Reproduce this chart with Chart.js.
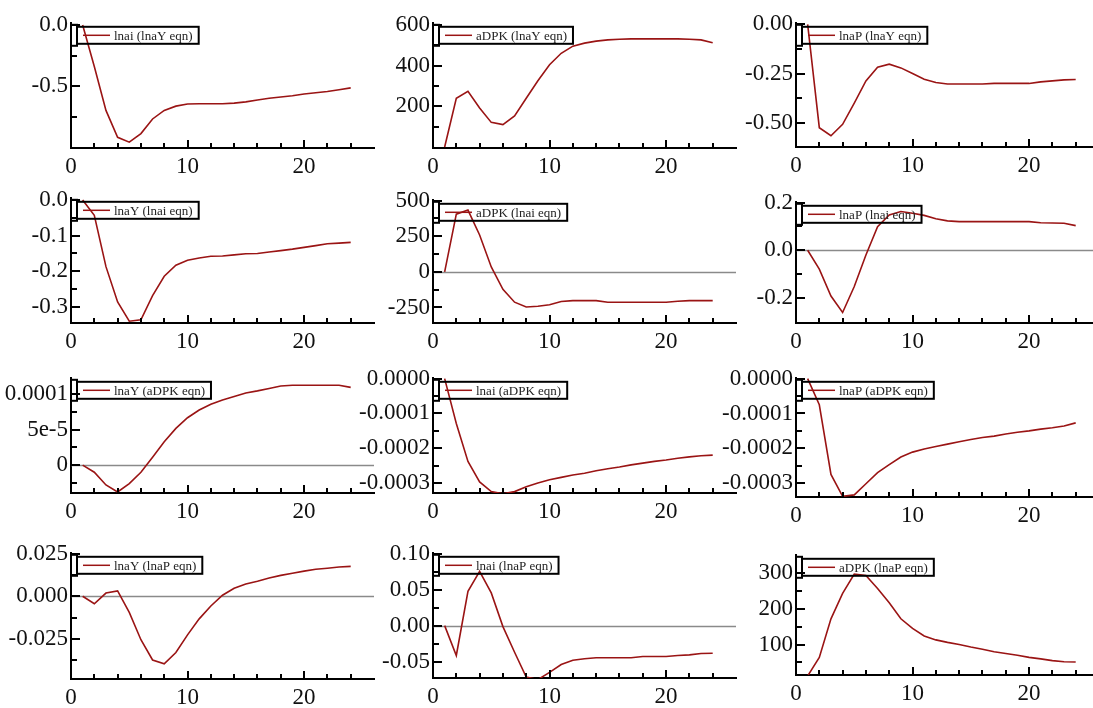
<!DOCTYPE html>
<html><head><meta charset="utf-8">
<script src="https://cdn.jsdelivr.net/npm/chart.js@4"></script>
<style>
html,body{margin:0;padding:0;background:#fff;overflow:hidden;width:1093px;height:708px;position:relative}
canvas{position:absolute}
</style></head><body>
<script>
// horizons
const steps = [1,2,3,4,5,6,7,8,9,10,11,12,13,14,15,16,17,18,19,20,21,22,23,24];
const xMajor = [10, 20];
const xMinor = [2,4,6,8,12,14,16,18,22,24];

// series values
const lnai_lnaY = [0,-0.34,-0.70,-0.92,-0.96,-0.89,-0.77,-0.70,-0.665,-0.648,-0.645,-0.645,-0.645,-0.64,-0.63,-0.615,-0.60,-0.59,-0.58,-0.565,-0.555,-0.545,-0.53,-0.515];
const aDPK_lnaY = [0,240,274,192,121,110,153,240,326,405,461,496,511,521,527,530,532,532,532,532,532,530,527,513];
const lnaP_lnaY = [0,-0.525,-0.566,-0.508,-0.40,-0.287,-0.218,-0.202,-0.221,-0.25,-0.279,-0.295,-0.303,-0.303,-0.303,-0.303,-0.30,-0.30,-0.30,-0.30,-0.292,-0.287,-0.282,-0.28];
const lnaY_lnai = [0,-0.043,-0.187,-0.286,-0.34,-0.336,-0.268,-0.214,-0.183,-0.169,-0.163,-0.158,-0.157,-0.154,-0.151,-0.15,-0.146,-0.142,-0.138,-0.133,-0.128,-0.123,-0.121,-0.119];
const aDPK_lnai = [0,404,433,258,34,-123,-213,-247,-242,-231,-208,-202,-202,-202,-213,-213,-213,-213,-213,-213,-206,-202,-202,-202];
const lnaP_lnai = [0,-0.079,-0.192,-0.261,-0.152,-0.02,0.099,0.148,0.162,0.155,0.146,0.132,0.123,0.12,0.12,0.12,0.12,0.12,0.12,0.12,0.115,0.114,0.113,0.103];
const lnaY_aDPK = [0,-1.0e-5,-2.8e-5,-3.8e-5,-2.6e-5,-1.0e-5,1.13e-5,3.3e-5,5.2e-5,6.7e-5,7.8e-5,8.6e-5,9.2e-5,9.7e-5,1.02e-4,1.05e-4,1.085e-4,1.12e-4,1.13e-4,1.13e-4,1.13e-4,1.13e-4,1.13e-4,1.10e-4];
const lnai_aDPK = [0,-1.29e-4,-2.38e-4,-2.97e-4,-3.25e-4,-3.31e-4,-3.25e-4,-3.11e-4,-3.0e-4,-2.91e-4,-2.84e-4,-2.77e-4,-2.72e-4,-2.65e-4,-2.59e-4,-2.54e-4,-2.48e-4,-2.43e-4,-2.38e-4,-2.34e-4,-2.29e-4,-2.25e-4,-2.22e-4,-2.2e-4];
const lnaP_aDPK = [0,-7.5e-5,-2.75e-4,-3.38e-4,-3.34e-4,-3.02e-4,-2.7e-4,-2.47e-4,-2.25e-4,-2.11e-4,-2.02e-4,-1.95e-4,-1.88e-4,-1.81e-4,-1.75e-4,-1.69e-4,-1.65e-4,-1.59e-4,-1.54e-4,-1.5e-4,-1.45e-4,-1.41e-4,-1.36e-4,-1.27e-4];
const lnaY_lnaP = [0,-0.0044,0.0019,0.0032,-0.0095,-0.0256,-0.0375,-0.0398,-0.0331,-0.0227,-0.0133,-0.0057,0.0006,0.0047,0.0072,0.0089,0.0108,0.0123,0.0136,0.0148,0.0159,0.0165,0.0172,0.0176];
const lnai_lnaP = [0,-0.0415,0.0478,0.0754,0.0455,-0.0013,-0.037,-0.0714,-0.075,-0.065,-0.054,-0.048,-0.046,-0.0446,-0.0446,-0.0446,-0.0446,-0.0429,-0.0429,-0.0429,-0.0415,-0.0406,-0.0388,-0.0384];
const aDPK_lnaP = [12,64,172,243,297,293,257,217,172,145,124,113,106,100,93,87,80,75,70,64,60,55,52,51];

// legend labels
const legendLabels = [
  'lnai (lnaY eqn)','aDPK (lnaY eqn)','lnaP (lnaY eqn)',
  'lnaY (lnai eqn)','aDPK (lnai eqn)','lnaP (lnai eqn)',
  'lnaY (aDPK eqn)','lnai (aDPK eqn)','lnaP (aDPK eqn)',
  'lnaY (lnaP eqn)','lnai (lnaP eqn)','aDPK (lnaP eqn)'];
const seriesList = [lnai_lnaY,aDPK_lnaY,lnaP_lnaY,lnaY_lnai,aDPK_lnai,lnaP_lnai,lnaY_aDPK,lnai_aDPK,lnaP_aDPK,lnaY_lnaP,lnai_lnaP,aDPK_lnaP];

// y axis ranges and ticks
const yMin = [-1.008,-5,-0.623,-0.345,-359,-0.305,-3.94e-5,-3.29e-4,-3.40e-4,-0.0487,-0.0728,14.8];
const yMax = [0.018,611,0.008,0.006,505,0.203,1.235e-4,2.5e-6,2.5e-6,0.0256,0.1013,351];
const yMajor = [
  [-0.5,0],[200,400,600],[-0.5,-0.25,0],
  [-0.3,-0.2,-0.1,0],[-250,0,250,500],[-0.2,0,0.2],
  [0,5e-5,1e-4],[-0.0003,-0.0002,-0.0001,0],[-0.0003,-0.0002,-0.0001,0],
  [-0.025,0,0.025],[-0.05,0,0.05,0.1],[100,200,300]];
const yMinor = [
  [-0.75,-0.25],[100,300,500],[-0.375,-0.125],
  [-0.25,-0.15,-0.05],[-125,125,375],[-0.1,0.1],
  [-2.5e-5,2.5e-5,7.5e-5],[-0.00025,-0.00015,-0.00005],[-0.00025,-0.00015,-0.00005],
  [-0.0375,-0.0125,0.0125],[-0.025,0.025,0.075],[50,150,250]];
const yLabelFmt = [
  v=>v.toFixed(1), v=>String(v), v=>v.toFixed(2),
  v=>v.toFixed(1), v=>String(v), v=>v.toFixed(1),
  v=>(v===0?'0':(v===5e-5?'5e-5':'0.0001')), v=>v.toFixed(4), v=>v.toFixed(4),
  v=>v.toFixed(3), v=>v.toFixed(2), v=>String(v)];
const zeroLine = [false,false,false,false,true,true,true,false,false,true,true,false];

// layout: [y-axis x, plot top, plot bottom]
const layout = [
  [71,18,148],[433,18,148],[796,18,147],
  [71,193,323],[433,195,323],[796,197,323],
  [71,373,493],[433,373,493],[796,373,497],
  [71,548,679],[433,548,678],[796,550,675]];

const LINE = '#9a1414';
const FONT = '"Liberation Serif","Times New Roman",serif';
const YW = 80, PT = 12, PR = 12, XH = 35, XMAX = 26, PXU = 11.65;

const deco = {
  id: 'deco',
  beforeDatasetsDraw(chart, args, o) {
    if (!o.zero) return;
    const a = chart.chartArea, ctx = chart.ctx;
    const py = Math.round(chart.scales.y.getPixelForValue(0)) + 0.5;
    ctx.save();
    ctx.strokeStyle = '#8a8a8a'; ctx.lineWidth = 1.3;
    ctx.beginPath(); ctx.moveTo(a.left, py); ctx.lineTo(a.right, py); ctx.stroke();
    ctx.restore();
  },
  afterDatasetsDraw(chart, args, o) {
    const a = chart.chartArea, ctx = chart.ctx;
    const xs = chart.scales.x, ys = chart.scales.y;
    ctx.save();
    ctx.strokeStyle = '#000'; ctx.lineWidth = 2;
    ctx.beginPath();
    o.xMajor.forEach(v => { const p = Math.round(xs.getPixelForValue(v)); ctx.moveTo(p, a.bottom); ctx.lineTo(p, a.bottom - 8); });
    o.xMinor.forEach(v => { const p = Math.round(xs.getPixelForValue(v)); ctx.moveTo(p, a.bottom); ctx.lineTo(p, a.bottom - 5); });
    o.yMajor.forEach(v => { const p = Math.round(ys.getPixelForValue(v)); ctx.moveTo(a.left, p); ctx.lineTo(a.left + 9, p); });
    o.yMinor.forEach(v => { const p = Math.round(ys.getPixelForValue(v)); ctx.moveTo(a.left, p); ctx.lineTo(a.left + 6, p); });
    ctx.stroke();
    // legend
    ctx.font = '13px ' + FONT;
    const tw = ctx.measureText(o.label).width;
    const bx = a.left + 6, by = a.top + 4, bw = 38 + tw + 5, bh = 17;
    ctx.lineWidth = 2; ctx.strokeStyle = '#000';
    ctx.strokeRect(bx, by, bw, bh);
    ctx.strokeRect(a.left, by - 2, bx - a.left, bh + 4);
    ctx.strokeStyle = LINE; ctx.lineWidth = 1.5;
    ctx.beginPath(); ctx.moveTo(bx + 6, by + bh / 2); ctx.lineTo(bx + 33, by + bh / 2); ctx.stroke();
    ctx.fillStyle = '#222'; ctx.textBaseline = 'middle'; ctx.textAlign = 'left';
    ctx.fillText(o.label, bx + 37, by + bh / 2 + 1);
    ctx.restore();
  }
};

seriesList.forEach((vals, i) => {
  const [ax, top, bot] = layout[i];
  const c = document.createElement('canvas');
  const w = YW + Math.round(XMAX * PXU) + PR;
  const h = PT + (bot - top) + XH;
  c.width = w; c.height = h;
  c.style.left = (ax - YW) + 'px'; c.style.top = (top - PT) + 'px';
  c.style.width = w + 'px'; c.style.height = h + 'px';
  document.body.appendChild(c);
  new Chart(c, {
    type: 'line',
    data: { datasets: [{
      data: steps.map((s, k) => ({ x: s, y: vals[k] })),
      borderColor: LINE, borderWidth: 1.6, pointRadius: 0, tension: 0, fill: false
    }]},
    options: {
      responsive: false, animation: false, devicePixelRatio: 1,
      layout: { padding: { top: PT, right: PR, left: 0, bottom: 0 } },
      plugins: {
        legend: { display: false }, tooltip: { enabled: false },
        deco: { zero: zeroLine[i], xMajor, xMinor, yMajor: yMajor[i], yMinor: yMinor[i], label: legendLabels[i] }
      },
      scales: {
        x: {
          type: 'linear', min: 0, max: XMAX,
          afterBuildTicks: s => { s.ticks = [0, 10, 20].map(v => ({ value: v })); },
          afterFit: s => { s.height = XH; },
          grid: { display: false, drawTicks: false },
          border: { display: true, color: '#000', width: 2 },
          ticks: { color: '#111', font: { family: FONT, size: 23 }, padding: 5, maxRotation: 0, autoSkip: false, callback: v => String(v) }
        },
        y: {
          type: 'linear', min: yMin[i], max: yMax[i],
          afterBuildTicks: s => { s.ticks = yMajor[i].map(v => ({ value: v })); },
          afterFit: s => { s.width = YW; },
          grid: { display: false, drawTicks: false },
          border: { display: true, color: '#000', width: 2 },
          ticks: { color: '#111', font: { family: FONT, size: 23 }, padding: 3, autoSkip: false, callback: v => yLabelFmt[i](v) }
        }
      }
    },
    plugins: [deco]
  });
});
</script>
</body></html>
